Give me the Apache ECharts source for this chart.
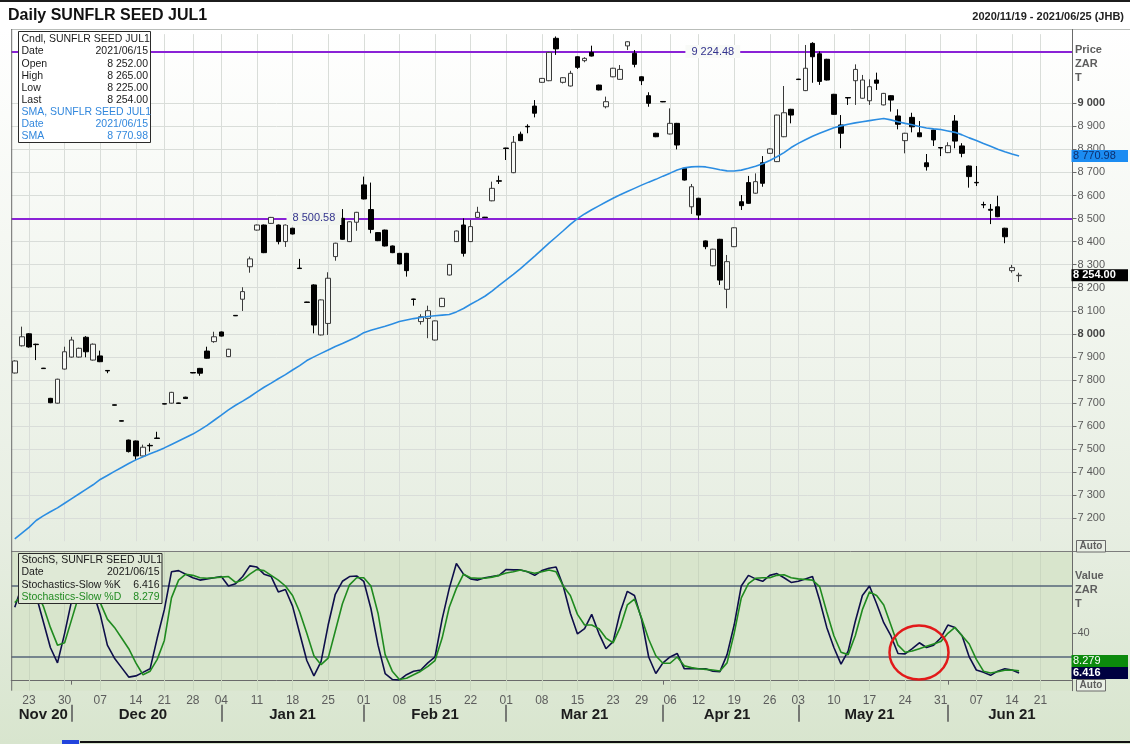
<!DOCTYPE html>
<html>
<head>
<meta charset="utf-8">
<title>Daily SUNFLR SEED JUL1</title>
<script src="https://cdn.jsdelivr.net/npm/echarts@6/dist/echarts.min.js"></script>
<style>
  html, body { margin: 0; padding: 0; background: #fff; }
  #chart { width: 1130px; height: 744px; }
</style>
</head>
<body>
<div id="chart"></div>
<script>
// trading calendar (JSE), weekends and public holidays skipped
const holidays = ['2020/12/16', '2020/12/25', '2021/01/01', '2021/03/22', '2021/04/02', '2021/04/05', '2021/04/27', '2021/06/16']
const monthNames = ['Jan', 'Feb', 'Mar', 'Apr', 'May', 'Jun', 'Jul', 'Aug', 'Sep', 'Oct', 'Nov', 'Dec']

const pad = n => (n < 10 ? '0' : '') + n
const tradingDays = []
for (let d = new Date(Date.UTC(2020, 10, 19)); d <= new Date(Date.UTC(2021, 5, 25)); d.setUTCDate(d.getUTCDate() + 1)) {
  const wd = d.getUTCDay()
  if (wd === 0 || wd === 6) continue
  const s = d.getUTCFullYear() + '/' + pad(d.getUTCMonth() + 1) + '/' + pad(d.getUTCDate())
  if (holidays.includes(s)) continue
  tradingDays.push(s)
}

// OHLC, 2020/11/19 .. 2021/06/15
const opens = [7830, 7948, 8000, 7955, 7851, 7720, 7699, 7847, 7899, 7899,
  7985, 7886, 7904, 7841, 7692, 7623, 7539, 7535, 7470, 7516,
  7548, 7697, 7699, 7700, 7725, 7832, 7850, 7925, 7966, 8008,
  7901, 8080, 8150, 8291, 8450, 8472, 8479, 8472, 8400, 8458,
  8285, 8138, 8212, 7995, 8045, 8335, 8501, 8400, 8484, 8646,
  8539, 8439, 8450, 8381, 8349, 8349, 8151, 8053, 8067, 7973,
  8118, 8255, 8400, 8472, 8400, 8505, 8506, 8577, 8664, 8806,
  8699, 8866, 8900, 8988, 9091, 9098, 9282, 9091, 9075, 9202,
  9185, 9221, 9079, 8985, 9115, 9104, 9249, 9217, 9115, 9033,
  8870, 9008, 8867, 8913, 8718, 8551, 8588, 8403, 8295, 8410,
  8193, 8378, 8573, 8656, 8610, 8742, 8783, 8747, 8855, 8974,
  9105, 9055, 9260, 9215, 9191, 9039, 8906, 9025, 9098, 9022,
  9011, 9101, 8993, 9033, 8945, 8838, 8939, 8872, 8742, 8884,
  8808, 8786, 8923, 8815, 8728, 8657, 8561, 8540, 8551, 8458,
  8274, 8252]
const closes = [7882, 7987, 7943, 7953, 7849, 7701, 7803, 7922, 7973, 7937,
  7922, 7955, 7879, 7839, 7690, 7621, 7489, 7470, 7508, 7514,
  7546, 7695, 7746, 7698, 7719, 7830, 7829, 7894, 7987, 7990,
  7933, 8078, 8183, 8325, 8472, 8352, 8505, 8400, 8472, 8433,
  8283, 8136, 8038, 8147, 8241, 8393, 8410, 8486, 8527, 8585,
  8453, 8404, 8381, 8352, 8303, 8274, 8149, 8074, 8100, 8056,
  8154, 8301, 8446, 8349, 8465, 8527, 8504, 8631, 8662, 8804,
  8831, 8838, 8898, 8957, 9108, 9221, 9236, 9111, 9130, 9156,
  9195, 9205, 9058, 9007, 9152, 9147, 9267, 9169, 9098, 9000,
  8855, 9006, 8913, 8819, 8667, 8638, 8515, 8378, 8367, 8233,
  8313, 8460, 8556, 8566, 8660, 8653, 8802, 8949, 8959, 8949,
  9103, 9152, 9202, 9095, 9101, 8952, 8870, 9023, 9147, 9101,
  9072, 9087, 9043, 9014, 8909, 8870, 8898, 8855, 8725, 8841,
  8806, 8816, 8836, 8783, 8682, 8655, 8559, 8536, 8508, 8421,
  8287, 8254]
const lows = [7828, 7945, 7940, 7886, 7848, 7699, 7697, 7845, 7897, 7897,
  7898, 7884, 7877, 7829, 7689, 7620, 7485, 7453, 7468, 7489,
  7545, 7694, 7697, 7697, 7718, 7829, 7818, 7892, 7961, 7988,
  7899, 8077, 8099, 8265, 8448, 8350, 8477, 8388, 8377, 8431,
  8282, 8135, 8002, 7993, 7995, 8317, 8408, 8398, 8447, 8583,
  8436, 8402, 8379, 8350, 8301, 8248, 8122, 8040, 7981, 7971,
  8116, 8253, 8398, 8335, 8398, 8503, 8503, 8575, 8650, 8754,
  8697, 8836, 8870, 8939, 9089, 9096, 9210, 9086, 9073, 9149,
  9178, 9203, 9056, 8978, 9113, 9102, 9231, 9156, 9079, 8985,
  8853, 9005, 8865, 8800, 8665, 8520, 8494, 8367, 8293, 8212,
  8111, 8376, 8537, 8564, 8608, 8638, 8781, 8745, 8853, 8913,
  9102, 9053, 9089, 9080, 9099, 8950, 8805, 8993, 8993, 9020,
  8993, 9058, 8991, 8964, 8887, 8783, 8874, 8853, 8708, 8815,
  8771, 8784, 8805, 8766, 8634, 8641, 8545, 8476, 8506, 8393,
  8265, 8225]
const highs = [7885, 8031, 8003, 7957, 7852, 7722, 7805, 7944, 7987, 7940,
  7990, 7958, 7927, 7842, 7693, 7624, 7541, 7537, 7519, 7525,
  7575, 7698, 7748, 7701, 7727, 7833, 7852, 7944, 8009, 8010,
  7935, 8081, 8202, 8335, 8474, 8474, 8507, 8474, 8474, 8460,
  8325, 8139, 8215, 8149, 8267, 8395, 8541, 8488, 8529, 8682,
  8656, 8441, 8452, 8383, 8351, 8351, 8152, 8085, 8122, 8058,
  8156, 8303, 8448, 8501, 8494, 8551, 8507, 8660, 8686, 8807,
  8858, 8877, 8909, 9014, 9110, 9223, 9290, 9113, 9141, 9204,
  9200, 9250, 9081, 9029, 9154, 9166, 9269, 9231, 9117, 9048,
  8872, 9009, 8978, 8915, 8720, 8650, 8590, 8405, 8369, 8412,
  8342, 8462, 8602, 8685, 8696, 8771, 8804, 8951, 9075, 8976,
  9106, 9253, 9265, 9225, 9193, 9041, 8949, 9026, 9169, 9123,
  9104, 9133, 9045, 9035, 8974, 8872, 8959, 8923, 8780, 8886,
  8809, 8831, 8949, 8827, 8730, 8728, 8573, 8563, 8599, 8460,
  8299, 8265]

// simple moving average
const sma = [7110, 7135, 7160, 7190, 7210, 7228, 7245, 7265, 7285, 7305,
  7325, 7345, 7368, 7385, 7403, 7420, 7437, 7453, 7466, 7480,
  7492, 7505, 7520, 7535, 7550, 7565, 7583, 7603, 7625, 7647,
  7670, 7690, 7708, 7727, 7748, 7768, 7786, 7805, 7823, 7843,
  7862, 7884, 7900, 7915, 7930, 7945, 7958, 7972, 7986, 8005,
  8015, 8024, 8033, 8043, 8053, 8060, 8066, 8071, 8075, 8078,
  8081, 8084, 8095, 8110, 8128, 8145, 8163, 8185, 8210, 8234,
  8258, 8283, 8310, 8337, 8365, 8393, 8420, 8447, 8475, 8500,
  8520, 8538, 8555, 8572, 8588, 8603, 8617, 8631, 8645, 8658,
  8670, 8684, 8697, 8711, 8720, 8724, 8726, 8724, 8718, 8712,
  8707, 8706, 8710, 8718, 8727, 8738, 8752, 8768, 8786, 8808,
  8826, 8842, 8857, 8870, 8882, 8894, 8902, 8909, 8915, 8920,
  8925, 8930, 8934, 8928, 8920, 8913, 8907, 8899, 8893, 8889,
  8886, 8880, 8874, 8863, 8850, 8839, 8826, 8814, 8801, 8790,
  8780, 8770.98]

// slow stochastics
const stochK = [62, 80, 82, 72, 50, 28, 15, 40, 68, 82,
  85, 75, 56, 30, 19, 11, 3, 4, 7, 10,
  36, 60, 92, 93, 90, 87, 85, 86, 87, 88,
  80, 82, 88, 97, 96, 90, 88, 75, 77, 63,
  40, 17, 4, 16, 47, 73, 84, 88, 88.5, 84,
  61, 30, 6, 1, 0.5, 5, 8, 9, 15, 20,
  52, 78, 99, 90, 86, 85, 87, 88, 89, 94,
  93.6, 93.6, 92, 89, 93, 95, 96, 80, 57, 39.5,
  44, 56, 40, 27, 33, 58, 75.5, 72, 52, 20,
  6, 15, 20, 23, 10, 10, 10, 10, 8, 7.6,
  22, 47, 80, 89, 86, 84, 89, 90.5, 87, 83,
  84, 86, 88, 68, 45, 28, 14, 25, 50, 72,
  80, 65, 49, 38, 23, 22.6, 27, 32, 28, 30,
  36, 47, 45, 38, 20, 9, 7, 4.5, 8, 10,
  9, 6.416]
const stochD = [66, 72, 80, 76, 63, 45, 30, 32, 52, 72,
  80, 78, 66, 52, 45, 36, 27, 15, 5, 8,
  18, 34, 70, 85, 90, 89, 87, 86.5, 87, 87.5,
  88, 83, 85, 90, 94, 93, 89, 85, 80, 72,
  58, 40, 21, 13.5, 19, 42, 65, 81, 87, 87,
  80, 57, 22, 8, 1, 2, 5, 8, 12, 17,
  36, 62, 78, 90, 87, 86.5, 86.5, 87.5, 89, 91,
  92, 93.5, 92, 90.8, 92, 93.6, 92, 80, 72, 56,
  47, 47, 44, 36, 32, 45, 64, 69, 53, 35,
  21, 14.7, 14.7, 20, 12.5, 11, 10, 9.5, 9, 8.2,
  15, 40, 70, 82, 86.5, 87, 87, 89, 89.5, 87,
  86, 85.5, 85, 79.5, 58, 38, 24, 22, 38, 60,
  75, 72, 64, 47, 30, 24, 25, 27, 29, 31,
  33, 40, 45, 38, 31, 18, 8, 6.5, 7.5, 8.8,
  9, 8.279]

const levels = [9224.48, 8500.58]
const levelLabelDays = ['2021/04/14', '2021/01/21']
const priceTicks = [7200, 7300, 7400, 7500, 7600, 7700, 7800, 7900, 8000,
  8100, 8200, 8300, 8400, 8500, 8600, 8700, 8800, 8900, 9000]
const stochTicks = [40]
const stochLevels = [80, 20]

const FONT = '"Liberation Sans", Arial, sans-serif'
const GL = 11.2
const GR = 57.5
const gridRightX = 1130 - GR

const fmtNum = (v, dec) => {
  const parts = v.toFixed(dec).split('.')
  const ip = parts[0].replace(/\B(?=(\d{3})+(?!\d))/g, ' ')
  return parts.length > 1 ? ip + '.' + parts[1] : ip
}

const dow = s => new Date(s.replace(/\//g, '-') + 'T00:00:00Z').getUTCDay()
const weekStarts = new Set()
const monthStarts = new Set()
const monthSpans = {}
tradingDays.forEach((d, i) => {
  if (i > 0 && dow(d) < dow(tradingDays[i - 1])) weekStarts.add(i)
  const m = d.slice(0, 7)
  if (i > 0 && m !== tradingDays[i - 1].slice(0, 7)) monthStarts.add(i)
  if (!monthSpans[m]) monthSpans[m] = [i, i]
  monthSpans[m][1] = i
})
const monthMids = new Set(Object.values(monthSpans).map(s => Math.ceil((s[0] + s[1]) / 2)))
const monthLabel = v => monthNames[+v.slice(5, 7) - 1] + ' ' + v.slice(2, 4)

const candleData = opens.map((o, i) => [o, closes[i], lows[i], highs[i]])

const chart = echarts.init(document.getElementById('chart'))

const weekLinesMain = [...weekStarts].map(i => ({ xAxis: tradingDays[i], lineStyle: { color: '#d9ddd9', width: 1, type: 'solid' } }))
const weekLinesStoch = [...weekStarts].map(i => ({ xAxis: tradingDays[i], lineStyle: { color: '#cad7c0', width: 1, type: 'solid' } }))

const option = {
  animation: false,
  textStyle: { fontFamily: FONT },
  grid: [
    { left: GL, right: GR, top: 34.15, height: 507.1, outerBoundsMode: 'none' },
    { left: GL, right: GR, top: 551.7, height: 139, outerBoundsMode: 'none' }
  ],
  xAxis: [
    {
      type: 'category', gridIndex: 0, data: tradingDays, boundaryGap: true,
      axisLine: { show: false }, axisTick: { show: false }, axisLabel: { show: false }, splitLine: { show: false }
    },
    {
      type: 'category', gridIndex: 1, data: tradingDays, boundaryGap: true,
      axisLine: { show: true, lineStyle: { color: '#6a6a6a', width: 1 } },
      axisTick: { show: true, alignWithLabel: true, interval: i => monthStarts.has(i), length: 4, lineStyle: { color: '#6a6a6a' } },
      axisLabel: { interval: i => weekStarts.has(i), formatter: v => v.slice(8), color: '#5c5c5c', fontSize: 12, margin: 4 },
      splitLine: { show: false }
    },
    {
      type: 'category', gridIndex: 1, data: tradingDays, boundaryGap: true, position: 'bottom', offset: 14,
      axisLine: { show: false },
      axisTick: { show: true, alignWithLabel: true, interval: i => monthStarts.has(i), length: 17, lineStyle: { color: '#555', width: 1.5 } },
      axisLabel: { interval: i => monthMids.has(i), formatter: monthLabel, color: '#1c1c1c', fontSize: 15, fontWeight: 'bold', margin: 3 },
      splitLine: { show: false }
    }
  ],
  yAxis: [
    {
      type: 'value', gridIndex: 0, position: 'right', min: 7100, max: 9300, interval: 100,
      axisLine: { show: true, lineStyle: { color: '#6a6a6a' } },
      axisTick: { show: true, length: 4, customValues: priceTicks, lineStyle: { color: '#6a6a6a' } },
      axisLabel: {
        customValues: priceTicks, margin: 5, color: '#5a5a5a', fontSize: 11,
        formatter: v => (v % 1000 === 0 ? '{b|' + fmtNum(v, 0) + '}' : fmtNum(v, 0)),
        rich: { b: { fontWeight: 'bold', color: '#444', fontSize: 11 } }
      },
      splitLine: { show: true, lineStyle: { color: '#d9ddd9', width: 1 } }
    },
    {
      type: 'value', gridIndex: 1, position: 'right', min: -8.5, max: 109,
      axisLine: { show: true, lineStyle: { color: '#6a6a6a' } },
      axisTick: { show: true, length: 4, customValues: stochTicks, lineStyle: { color: '#6a6a6a' } },
      axisLabel: { customValues: stochTicks, margin: 5, color: '#5a5a5a', fontSize: 11, formatter: v => (stochTicks.includes(v) ? String(v) : '') },
      splitLine: { show: false }
    }
  ],
  series: [
    {
      type: 'candlestick', name: 'Cndl', xAxisIndex: 0, yAxisIndex: 0, z: 3,
      data: candleData, barWidth: 5,
      itemStyle: { color: '#f6f8f5', color0: '#000000', borderColor: '#3a3a3a', borderColor0: '#000000', borderWidth: 1 },
      markLine: {
        silent: true, z: 1, symbol: ['none', 'none'], label: { show: false }, emphasis: { disabled: true },
        data: weekLinesMain.concat(levels.map(v => ({ yAxis: v, lineStyle: { color: '#8a22d6', width: 2, type: 'solid' } })))
      },
      markPoint: {
        silent: true, z: 4, symbol: 'rect', symbolSize: [1, 1], itemStyle: { color: 'rgba(0,0,0,0)' },
        label: { show: true, position: 'inside', color: '#34348e', fontSize: 11, padding: [1, 6], formatter: p => fmtNum(p.value, 2) },
        data: [
          { coord: [levelLabelDays[0], levels[0]], value: levels[0], label: { backgroundColor: '#f8faf7' } },
          { coord: [levelLabelDays[1], levels[1]], value: levels[1], label: { backgroundColor: '#f1f5ef' } }
        ]
      }
    },
    {
      type: 'line', name: 'SMA', xAxisIndex: 0, yAxisIndex: 0, z: 4,
      data: sma, showSymbol: false, symbol: 'none',
      lineStyle: { color: '#2b8de2', width: 1.6 }
    },
    {
      type: 'line', name: 'Stochastics-Slow %K', xAxisIndex: 1, yAxisIndex: 1, z: 3,
      data: stochK, showSymbol: false, symbol: 'none',
      lineStyle: { color: '#0e0e4a', width: 1.6 },
      markLine: {
        silent: true, z: 1, symbol: ['none', 'none'], label: { show: false }, emphasis: { disabled: true },
        data: weekLinesStoch.concat(stochLevels.map(v => ({ yAxis: v, lineStyle: { color: '#56657a', width: 1.6, type: 'solid' } })))
      }
    },
    {
      type: 'line', name: 'Stochastics-Slow %D', xAxisIndex: 1, yAxisIndex: 1, z: 3,
      data: stochD, showSymbol: false, symbol: 'none',
      lineStyle: { color: '#1f8a1f', width: 1.6 }
    }
  ]
}

chart.setOption(option)

// overlays: backgrounds, titles, info boxes, value tags
const last = opens.length - 1
const txt = (text, x, y, opts) => ({
  type: 'text', z: (opts && opts.z) || 20, silent: true,
  style: Object.assign({
    text: text, x: x, y: y, fill: '#1a1a1a', font: '10px ' + FONT,
    align: 'left', verticalAlign: 'middle', textAlign: 'left', textVerticalAlign: 'middle'
  }, opts || {})
})
const rect = (x, y, w, h, style, z) => ({ type: 'rect', z: z === undefined ? 20 : z, silent: true, shape: { x: x, y: y, width: w, height: h }, style: style })
const line = (x1, y1, x2, y2, stroke, w, z) => ({ type: 'line', z: z === undefined ? 15 : z, silent: true, shape: { x1: x1, y1: y1, x2: x2, y2: y2 }, style: { stroke: stroke, lineWidth: w } })

const g = []
g.push(rect(0, 0, 1130, 744, { fill: '#ffffff' }, -30))
g.push(rect(0, 29, 1130, 715, {
  fill: new echarts.graphic.LinearGradient(0, 0, 0, 1, [
    { offset: 0, color: '#ffffff' }, { offset: 0.7, color: '#e7eee2' }, { offset: 1, color: '#d8e5ce' }
  ])
}, -29))
g.push(rect(GL, 551.7, gridRightX - GL, 139, { fill: '#d8e5cc' }, -28))

g.push(line(0, 1, 1130, 1, '#1c1c1c', 2))
g.push(txt('Daily SUNFLR SEED JUL1', 8, 16, { font: 'bold 16px ' + FONT, fill: '#111' }))
g.push(txt('2020/11/19 - 2021/06/25 (JHB)', 1124, 17, { font: 'bold 11px ' + FONT, fill: '#222', align: 'right', textAlign: 'right' }))

g.push(line(GL, 29.5, 1130, 29.5, '#b9bdb9', 1))
g.push(line(GL, 551.5, 1130, 551.5, '#7d7d7d', 1))
g.push(line(GL + 0.5, 29, GL + 0.5, 690.7, '#6a6a6a', 1))
g.push(line(gridRightX, 29, gridRightX, 690.7, '#6a6a6a', 1))
g.push(line(80, 742, 1130, 742, '#111', 2))
g.push(rect(62, 740, 17, 4, { fill: '#2244dd' }))

// candle / SMA info box
const ib = { x: 18.5, y: 31.5 }
g.push(rect(ib.x, ib.y, 132, 111, { fill: '#ffffff', stroke: '#2a2a2a', lineWidth: 1 }))
const dateLabel = tradingDays[last]
const rowsDark = [
  ['Cndl, SUNFLR SEED JUL1', ''],
  ['Date', dateLabel],
  ['Open', fmtNum(opens[last], 2)],
  ['High', fmtNum(highs[last], 2)],
  ['Low', fmtNum(lows[last], 2)],
  ['Last', fmtNum(closes[last], 2)]
]
const rowsBlue = [
  ['SMA, SUNFLR SEED JUL1', ''],
  ['Date', dateLabel],
  ['SMA', fmtNum(sma[last], 2)]
]
rowsDark.concat(rowsBlue).forEach((r, k) => {
  const y = 39.5 + k * 12.1
  const col = k < rowsDark.length ? '#1a1a1a' : '#3388dd'
  g.push(txt(r[0], 21.5, y, { fill: col, font: '10.5px ' + FONT }))
  if (r[1]) g.push(txt(r[1], 148, y, { fill: col, font: '10.5px ' + FONT, align: 'right', textAlign: 'right' }))
})

// stochastics info box
g.push(rect(18.5, 553.5, 143.5, 50, { fill: '#dfe9d6', stroke: '#2a2a2a', lineWidth: 1 }))
const stRows = [
  ['StochS, SUNFLR SEED JUL1', '', '#1a1a1a'],
  ['Date', dateLabel, '#1a1a1a'],
  ['Stochastics-Slow %K', String(stochK[last]), '#1a1a1a'],
  ['Stochastics-Slow %D', String(stochD[last]), '#228b22']
]
stRows.forEach((r, k) => {
  const y = 560.5 + k * 12.1
  g.push(txt(r[0], 21.5, y, { fill: r[2], font: '10.5px ' + FONT }))
  if (r[1]) g.push(txt(r[1], 159.5, y, { fill: r[2], font: '10.5px ' + FONT, align: 'right', textAlign: 'right' }))
})

// axis names
;['Price', 'ZAR', 'T'].forEach((s, k) => g.push(txt(s, 1075, 50 + k * 14, { font: 'bold 11px ' + FONT, fill: '#5e5e5e' })))
;['Value', 'ZAR', 'T'].forEach((s, k) => g.push(txt(s, 1075, 575.5 + k * 14, { font: 'bold 11px ' + FONT, fill: '#5e5e5e' })))

// Auto buttons
const autoBox = (y) => {
  g.push(rect(1076.5, y, 29, 11.5, { fill: '#e9efe5', stroke: '#6a6a6a', lineWidth: 1 }, 21))
  g.push(txt('Auto', 1091, y + 6, { font: 'bold 10px ' + FONT, fill: '#5e5e5e', align: 'center', textAlign: 'center', z: 22 }))
}
autoBox(540.5)
autoBox(679.5)

// value tags on the right axis
const tag = (yc, text, bg, fg, bold) => {
  g.push(rect(gridRightX - 1, yc - 6, 1130 - gridRightX - 1, 12, { fill: bg }, 23))
  g.push(txt(text, gridRightX + 0.5, yc, { font: (bold ? 'bold ' : '') + '11px ' + FONT, fill: fg, z: 24 }))
}
const ySma = chart.convertToPixel({ yAxisIndex: 0 }, sma[last])
const yLast = chart.convertToPixel({ yAxisIndex: 0 }, closes[last])
tag(ySma, fmtNum(sma[last], 2), '#1b8cf2', '#0d2f6e', false)
tag(yLast, fmtNum(closes[last], 2), '#000000', '#ffffff', true)
const yK = chart.convertToPixel({ yAxisIndex: 1 }, stochK[last])
const yD = Math.min(chart.convertToPixel({ yAxisIndex: 1 }, stochD[last]), yK - 12)
tag(yK, String(stochK[last]), '#000040', '#ffffff', true)
tag(yD, String(stochD[last]), '#0c8a0c', '#ffffff', false)

// red annotation circle
g.push({
  type: 'ellipse', z: 30, silent: true,
  shape: { cx: 919, cy: 652.5, rx: 29.5, ry: 27 },
  style: { fill: 'none', stroke: '#e21a1a', lineWidth: 2.5 }
})

chart.setOption({ graphic: { elements: g } })
</script>
</body>
</html>
